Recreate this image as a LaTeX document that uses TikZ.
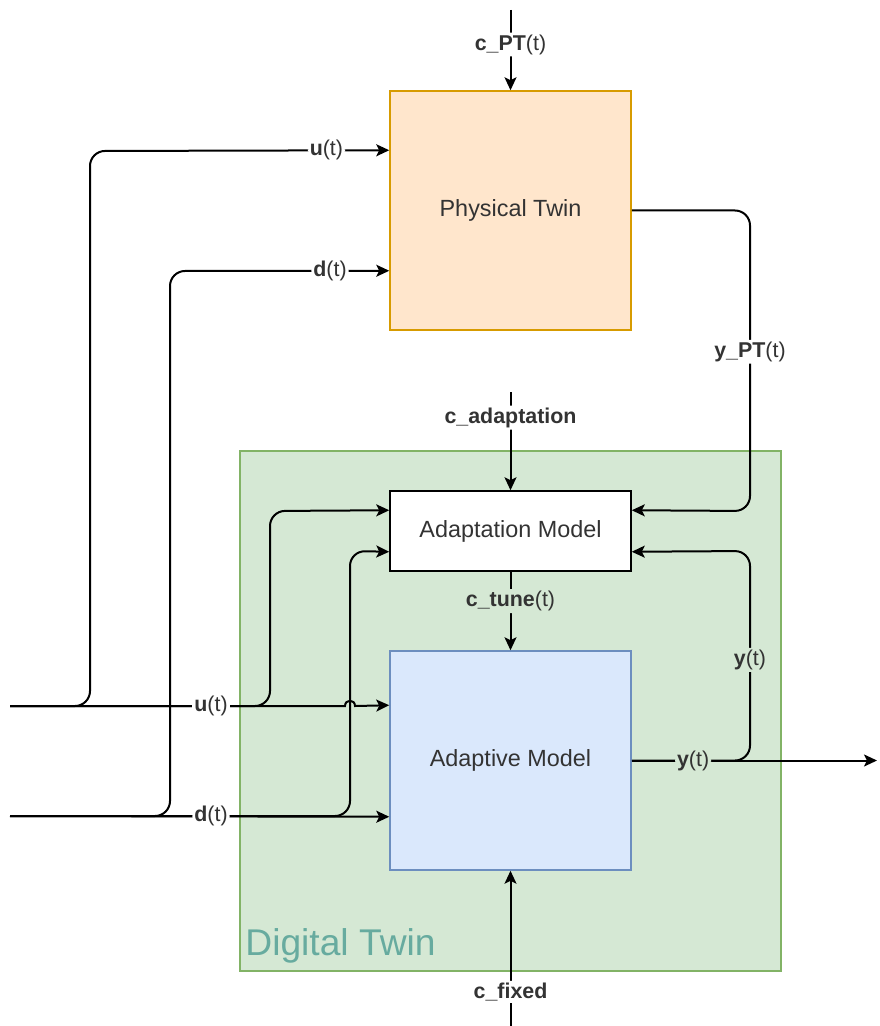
\documentclass[tikz,border=0pt]{standalone}
\usepackage{fontspec}
\setmainfont{Liberation Sans}
\usepackage{tikz}
\usetikzlibrary{arrows.meta}
\definecolor{ptfill}{HTML}{FFE6CC}
\definecolor{ptline}{HTML}{D79B00}
\definecolor{dtfill}{HTML}{D5E8D4}
\definecolor{dtline}{HTML}{82B366}
\definecolor{amfill}{HTML}{DAE8FC}
\definecolor{amline}{HTML}{6C8EBF}
\definecolor{dttext}{HTML}{67AB9F}
\definecolor{txt}{HTML}{333333}

\begin{document}
\begin{tikzpicture}[x=0.5pt, y=-0.5pt,
    >={Stealth[length=6.5pt,width=6pt,inset=1.5pt]},
    flow/.style={->, line width=1pt, rounded corners=7.5pt},
    block/.style={draw, line width=0.75pt, minimum width=120.5pt,
      text=txt, font=\fontsize{11.7}{14}\selectfont},
    lbl/.style={fill=white, inner sep=1pt, text=txt,
      font=\fontsize{10.7}{13}\selectfont},
    lblin/.style={lbl, fill=dtfill}]
  \useasboundingbox (0,0) rectangle (879,1026);

  % digital twin frame
  \draw[fill=dtfill, draw=dtline, line width=0.75pt] (240,451) rectangle (781,971);
  \node[anchor=base west, text=dttext, font=\fontsize{18.6}{22}\selectfont, inner sep=0pt]
    (dtname) at (245,955) {Digital Twin};

  % blocks
  \node[block, fill=ptfill, draw=ptline, minimum height=119.5pt] (pt) at (510.5,210.5) {Physical Twin};
  \node[block, fill=white, draw=black, minimum height=40pt] (am) at (510.5,531) {Adaptation Model};
  \node[block, fill=amfill, draw=amline, minimum height=109.5pt] (dm) at (510.5,760.5) {Adaptive Model};

  % free ends
  \coordinate (uin) at (10,706);
  \coordinate (din) at (10,816);
  \coordinate (yout) at (877,760.5);
  \coordinate (cpt) at (510.5,10);
  \coordinate (cad) at (510.5,392);
  \coordinate (cfix) at (510.5,1026);

  % inputs to the physical twin
  \draw[flow] (uin) -- (90,706) -- (90,151)
    -- node[lbl, pos=0.79] {\textbf{u}(t)} ([yshift=-30pt]pt.north west);
  \draw[flow] (din) -- (170,816) -- (170,271)
    -- node[lbl, pos=0.73] {\textbf{d}(t)} ([yshift=30pt]pt.south west);

  % inputs to the adaptation model
  \draw[flow] (uin) -- (270,706) -- (270,511) -- ([yshift=-10pt]am.north west);
  \draw[flow] (din) -- (350,816) -- (350,551) -- ([yshift=10pt]am.south west);

  % inputs to the adaptive model (u jumps over d)
  \draw[flow, sharp corners] (uin) -- node[lbl, pos=0.6] {\textbf{u}(t)} (345,706)
    .. controls (345,699) and (355,699) .. (355,706) -- ([yshift=-27.5pt]dm.north west);
  \draw[flow] (din) -- node[lbl, pos=0.53] {\textbf{d}(t)} ([yshift=27pt]dm.south west);

  % feedback to the adaptation model
  \draw[flow] (pt.east) -- (750,210.5)
    -- node[lbl, pos=0.47] {\textbf{y\_PT}(t)} (750,511) -- ([yshift=-10pt]am.north east);
  \draw[flow] (dm.east) -- (750,760.5)
    -- node[lblin, pos=0.48] {\textbf{y}(t)} (750,551) -- ([yshift=10pt]am.south east);
  \draw[flow] (dm.east) -- node[lblin, pos=0.25] {\textbf{y}(t)} (yout);

  % parameters
  \draw[flow] (cpt) -- node[lbl, pos=0.43] {\textbf{c\_PT}(t)} (pt.north);
  \draw[flow] (cad) -- node[lbl, pos=0.26] {\textbf{c\_adaptation}} (am.north);
  \draw[flow] (am.south) -- node[lblin, pos=0.375] {\textbf{c\_tune}(t)} (dm.north);
  \draw[flow] (cfix) -- node[lbl, pos=0.22] {\textbf{c\_fixed}} (dm.south);
\end{tikzpicture}
\end{document}
